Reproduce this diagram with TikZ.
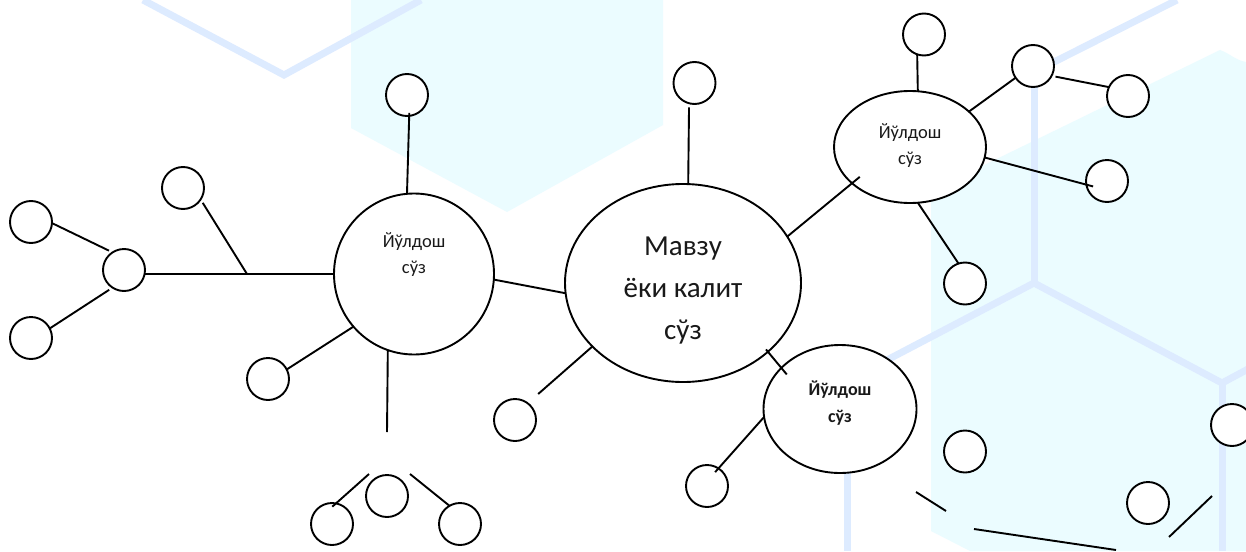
\documentclass[tikz,border=0pt]{standalone}
\usepackage{fontspec}
\setmainfont{Carlito}
\usetikzlibrary{shapes.geometric}
\definecolor{hexcyan}{HTML}{EBFCFF}
\definecolor{hexblue}{HTML}{DDEBFF}
\tikzset{
  dot/.style={circle,draw=black,fill=white,line width=1.9pt,minimum size=42pt,inner sep=0pt,outer sep=0pt},
  bubble/.style={ellipse,draw=black,fill=white,line width=1.9pt,inner sep=0pt,outer sep=0pt,align=center,text=black!90},
  conn/.style={draw=black,line width=1.9pt},
  hexline/.style={draw=hexblue,line width=7pt,line join=miter},
  hexfill/.style={fill=hexcyan,draw=none}
}
\begin{document}
\begin{tikzpicture}[x=1pt,y=-1pt]
\useasboundingbox (0,0) rectangle (1246,551);
\fill[white] (0,0) rectangle (1246,551);
% background
\path[hexfill] (351,0) -- (351,128) -- (507,212) -- (663,125) -- (663,0) -- cycle;
\path[hexfill] (931,191) -- (1220,50) to[out=-20,in=170] (1246,62) -- (1246,551) -- (970,551) -- (931,531) -- cycle;
\draw[hexline] (143,0) -- (284,75) -- (421,0);
\draw[hexline] (1054,62) -- (1177,0);
\draw[hexline] (1034,70) -- (1034,283);
\draw[hexline] (887,360) -- (1034,283) -- (1222,383) -- (1250,368);
\draw[hexline] (1222,383) -- (1222,551);
\draw[hexline] (847,465) -- (847,551);
% main bubbles
\node[bubble,minimum width=160pt,minimum height=161pt,font=\fontsize{18.5}{26}\selectfont] (L) at (414,274) {Йўлдош\\сўз\\[15pt]\mbox{}};
\node[bubble,minimum width=236pt,minimum height=198pt,font=\fontsize{29}{42}\selectfont] (M) at (683,283) {\mbox{}\\[-8pt]Мавзу\\ёки калит\\сўз};
\node[bubble,minimum width=152pt,minimum height=112pt,font=\fontsize{18.5}{26}\selectfont] (E1) at (910,147) {Йўлдош\\сўз\\[-20pt]\mbox{}};
\node[bubble,minimum width=153pt,minimum height=128pt,font=\bfseries\fontsize{18}{27}\selectfont] (E2) at (840,409) {Йўлдош\\сўз\\[-12pt]\mbox{}};
% small circles
\node[dot] (a1) at (407,95) {};
\node[dot] (a2) at (183,188) {};
\node[dot] (a3) at (31,222) {};
\node[dot] (a4) at (124,270) {};
\node[dot] (a5) at (31,338) {};
\node[dot] (a6) at (268,379) {};
\node[dot] (a7) at (387,496) {};
\node[dot] (a8) at (332,524) {};
\node[dot] (a9) at (460,524) {};
\node[dot] (b1) at (515,420) {};
\node[dot] (b2) at (694.5,83) {};
\node[dot] (b3) at (924,34.5) {};
\node[dot] (b4) at (1033,66) {};
\node[dot] (b5) at (1128,96) {};
\node[dot] (b6) at (1107,181) {};
\node[dot] (b7) at (965,283.5) {};
\node[dot] (b8) at (707,486) {};
\node[dot] (b9) at (965,451.5) {};
\node[dot] (c1) at (1148,503) {};
\node[dot] (c2) at (1232,425) {};
% free ends
\coordinate (J) at (247,274);
\coordinate (F1) at (387,432);
\coordinate (F2) at (369,474);
\coordinate (F3) at (410,474);
\coordinate (G1) at (916,492);
\coordinate (G2) at (946,511);
\coordinate (G3) at (974,529);
\coordinate (G4) at (1116,550);
\coordinate (G5) at (1169,537);
\coordinate (G6) at (1212,496);
% connectors
\draw[conn,shorten <=-3pt] (a1.-84) -- (L.95);
\draw[conn] (a4.-11) -- (L.180);
\draw[conn,shorten <=4pt] (a2.-33.7) -- (J);
\draw[conn,shorten >=4pt] (a3.-3) -- (a4.123.7);
\draw[conn,shorten >=4pt] (a5.27.6) -- (a4.-123.7);
\draw[conn] (L.-139) -- (a6.27.6);
\draw[conn] (L.-109.3) -- (F1);
\draw[conn,shorten >=-5pt] (F2) -- (a8.79.4);
\draw[conn] (F3) -- (a9.120.5);
\draw[conn] (L.-4.2) -- (M.-175.2);
\draw[conn,shorten >=14pt] (M.-145.6) -- (b1.53);
\draw[conn,shorten >=4pt] (M.87) -- (b2.-105);
\draw[conn,shorten >=-10pt] (M.24.8) -- (E1.-148.7);
\draw[conn] (b3.-109.3) -- (E1.82.9);
\draw[conn] (E1.31) -- (b4.-146.3);
\draw[conn,shorten <=4pt] (b4.-28.6) -- (b5.155.8);
\draw[conn,shorten >=-7pt] (E1.-8.2) -- (b6.-170);
\draw[conn] (E1.-82) -- (b7.108.9);
\draw[conn,shorten <=-3pt,shorten >=-8.5pt] (M.-39.3) -- (E2.145.2);
\draw[conn,shorten >=-5pt] (E2.-174) -- (b8.57);
\draw[conn] (G1) -- (G2);
\draw[conn] (G3) -- (G4);
\draw[conn] (G5) -- (G6);
\end{tikzpicture}
\end{document}
